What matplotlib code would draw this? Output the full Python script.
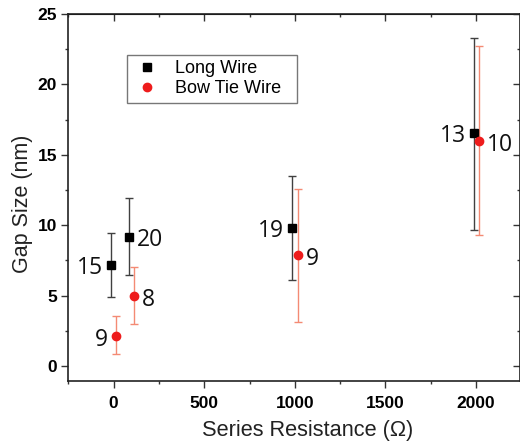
import matplotlib
matplotlib.use("Agg")
import matplotlib.pyplot as plt
from matplotlib.ticker import MultipleLocator

# Data
long_x = [-17, 85, 982, 1989]
long_y = [7.17, 9.16, 9.78, 16.52]
long_lo = [4.88, 6.46, 6.11, 9.66]
long_hi = [9.47, 11.9, 13.49, 23.27]
long_n = ["15", "20", "19", "13"]
long_side = [-1, 1, -1, -1]

bow_x = [11, 114, 1017, 2017]
bow_y = [2.15, 4.97, 7.86, 15.98]
bow_lo = [0.83, 2.98, 3.15, 9.33]
bow_hi = [3.57, 7.0, 12.57, 22.7]
bow_n = ["9", "8", "9", "10"]
bow_side = [-1, 1, 1, 1]

xticks = [0, 500, 1000, 1500, 2000]
yticks = [0, 5, 10, 15, 20, 25]

plt.rcParams['font.family'] = ['Liberation Sans', 'DejaVu Sans']

fig = plt.figure(figsize=(5.2, 4.47), dpi=100)
W, H = 520, 447
ax = fig.add_axes([68 / W, (H - 381) / H, (519.5 - 68) / W, (381 - 14) / H])

def errs(y, lo, hi):
    return [[a - b for a, b in zip(y, lo)], [c - a for a, c in zip(y, hi)]]

ax.errorbar(long_x, long_y, yerr=errs(long_y, long_lo, long_hi), fmt='none',
            ecolor='#404040', elinewidth=1.0, capsize=3, capthick=1.0, zorder=2)
ax.errorbar(bow_x, bow_y, yerr=errs(bow_y, bow_lo, bow_hi), fmt='none',
            ecolor='#f48a74', elinewidth=1.0, capsize=3, capthick=1.0, zorder=2)
ax.plot(long_x, long_y, 's', color='black', markersize=5.3, label='Long Wire', zorder=3)
ax.plot(bow_x, bow_y, 'o', color='#ee1c1c', markersize=6, label='Bow Tie Wire  ', zorder=3)

for xs, ys, ns, sides, dy in [(long_x, long_y, long_n, long_side, 0),
                              (bow_x, bow_y, bow_n, bow_side, -1)]:
    for x, y, n, s in zip(xs, ys, ns, sides):
        ax.annotate(n, (x, y), xytext=(8 * s, dy), textcoords='offset pixels',
                    ha='right' if s < 0 else 'left', va='center_baseline',
                    fontsize=16.5, family=['Open Sans', 'DejaVu Sans'], color='#111111')

ax.set_xlim(-252, 2240)
ax.set_ylim(-1.065, 25)
ax.set_xticks(xticks)
ax.set_yticks(yticks)
ax.xaxis.set_minor_locator(MultipleLocator(250))
ax.yaxis.set_minor_locator(MultipleLocator(2.5))

for lab in ax.get_xticklabels() + ax.get_yticklabels():
    lab.set_fontweight('bold')
    lab.set_fontsize(12.5)

ax.tick_params(which='both', direction='out', top=False, right=False, width=1.0, color='#333333')
ax.tick_params(which='major', length=5)
ax.tick_params(which='minor', length=2.5)
ax.tick_params(axis='x', pad=6)
ax.tick_params(axis='y', pad=3)

# mirrored inward ticks on top and right
ax2 = ax.secondary_xaxis('top')
ax2.set_xticks(xticks)
ax2.xaxis.set_minor_locator(MultipleLocator(250))
ax2.tick_params(which='both', direction='in', labeltop=False, width=1.0, color='#333333')
ax2.tick_params(which='major', length=5)
ax2.tick_params(which='minor', length=2.5)
ay2 = ax.secondary_yaxis('right')
ay2.set_yticks(yticks)
ay2.yaxis.set_minor_locator(MultipleLocator(2.5))
ay2.tick_params(which='both', direction='in', labelright=False, width=1.0, color='#333333')
ay2.tick_params(which='major', length=5)
ay2.tick_params(which='minor', length=2.5)

for sp in ax.spines.values():
    sp.set_linewidth(1.2)
    sp.set_color('#222222')

ax.set_xlabel('Series Resistance (\u03a9)', fontsize=15.7, color='#222222')
ax.set_ylabel('Gap Size (nm)', fontsize=15.5, color='#222222')
ax.xaxis.set_label_coords(0.530, -0.107)
ax.yaxis.set_label_coords(-0.0775, 0.482)

leg = ax.legend(loc='upper left', bbox_to_anchor=((126.7 - 68) / (519.5 - 68), (381 - 55) / (381 - 14)),
                frameon=True, fancybox=False, edgecolor='#555555', fontsize=13,
                handletextpad=0.8, borderpad=0.3, labelspacing=0.15, handlelength=1.6,
                borderaxespad=0)
leg.get_frame().set_linewidth(1.0)

fig.savefig('out.png', dpi=100)
